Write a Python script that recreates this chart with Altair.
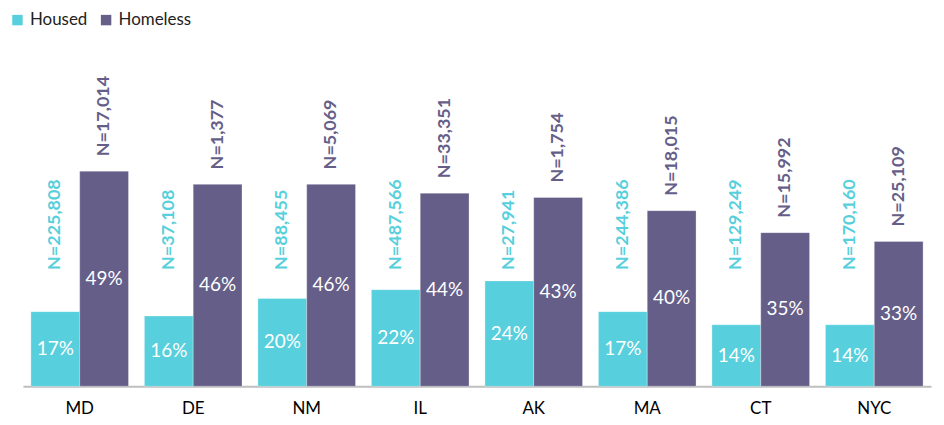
import altair as alt
import pandas as pd

states = ["MD", "DE", "NM", "IL", "AK", "MA", "CT", "NYC"]
groups = ["Housed", "Homeless"]
housed_pct = [17, 16, 20, 22, 24, 17, 14, 14]
homeless_pct = [49, 46, 46, 44, 43, 40, 35, 33]
housed_n = [225808, 37108, 88455, 487566, 27941, 244386, 129249, 170160]
homeless_n = [17014, 1377, 5069, 33351, 1754, 18015, 15992, 25109]
colors = ["#57CFDC", "#655E88"]

rows = []
housed_label_level = max(housed_pct) + 2.5
for i, s in enumerate(states):
    for g, p, n in (("Housed", housed_pct[i], housed_n[i]), ("Homeless", homeless_pct[i], homeless_n[i])):
        rows.append({
            "state": s, "group": g, "pct": p, "mid": p / 2,
            "pct_label": f"{p}%", "n_label": f"N={n:,}",
            "n_y": housed_label_level if g == "Housed" else p,
        })
df = pd.DataFrame(rows)

FONT = "Lato"
color_scale = alt.Scale(domain=groups, range=colors)

base = alt.Chart(df).encode(
    x=alt.X("state:N", sort=states, title=None,
            scale=alt.Scale(paddingInner=0.14, paddingOuter=0.07),
            axis=alt.Axis(labelAngle=0, ticks=False, labelPadding=14, labelFontSize=17,
                          labelColor="#000000", labelFont=FONT, domainColor="#BFBFBF",
                          domainWidth=2)),
    xOffset=alt.XOffset("group:N", sort=groups, scale=alt.Scale(paddingInner=0, paddingOuter=0)),
)

bars = base.mark_bar(stroke="#ffffff", strokeWidth=0.6, strokeOpacity=0.5).encode(
    y=alt.Y("pct:Q", scale=alt.Scale(domain=[0, 60]), axis=None),
    color=alt.Color("group:N", scale=color_scale, sort=groups,
                    legend=alt.Legend(title=None, orient="none", direction="horizontal",
                                      legendX=-14, legendY=-112, symbolType="square",
                                      symbolSize=110, symbolStrokeWidth=0, labelFontSize=17,
                                      labelFont=FONT, labelColor="#222222", columnPadding=10,
                                      symbolOpacity=1)),
)

pct_text = base.mark_text(color="white", fontSize=19, font=FONT, baseline="middle").encode(
    y=alt.Y("mid:Q"), text="pct_label:N"
)

n_homeless = base.transform_filter(alt.datum.group == "Homeless").mark_text(
    angle=270, align="left", baseline="middle", dx=15, fontSize=18, fontWeight="bold", font=FONT
).encode(
    y=alt.Y("n_y:Q"), text="n_label:N",
    color=alt.Color("group:N", scale=color_scale, legend=None),
)

n_housed = base.transform_filter(alt.datum.group == "Housed").mark_text(
    angle=270, align="left", baseline="middle", dx=0, fontSize=18, fontWeight="bold", font=FONT
).encode(
    y=alt.Y("n_y:Q"), text="n_label:N",
    color=alt.Color("group:N", scale=color_scale, legend=None),
)

chart = alt.layer(bars, pct_text, n_homeless, n_housed).properties(
    width=912, height=264.5,
    autosize=alt.AutoSizeParams(type="none"),
    padding={"left": 15, "top": 114.5, "right": 5, "bottom": 34},
).configure_view(stroke=None)

chart.save("out.html", embed_options={"renderer": "svg", "actions": False})
